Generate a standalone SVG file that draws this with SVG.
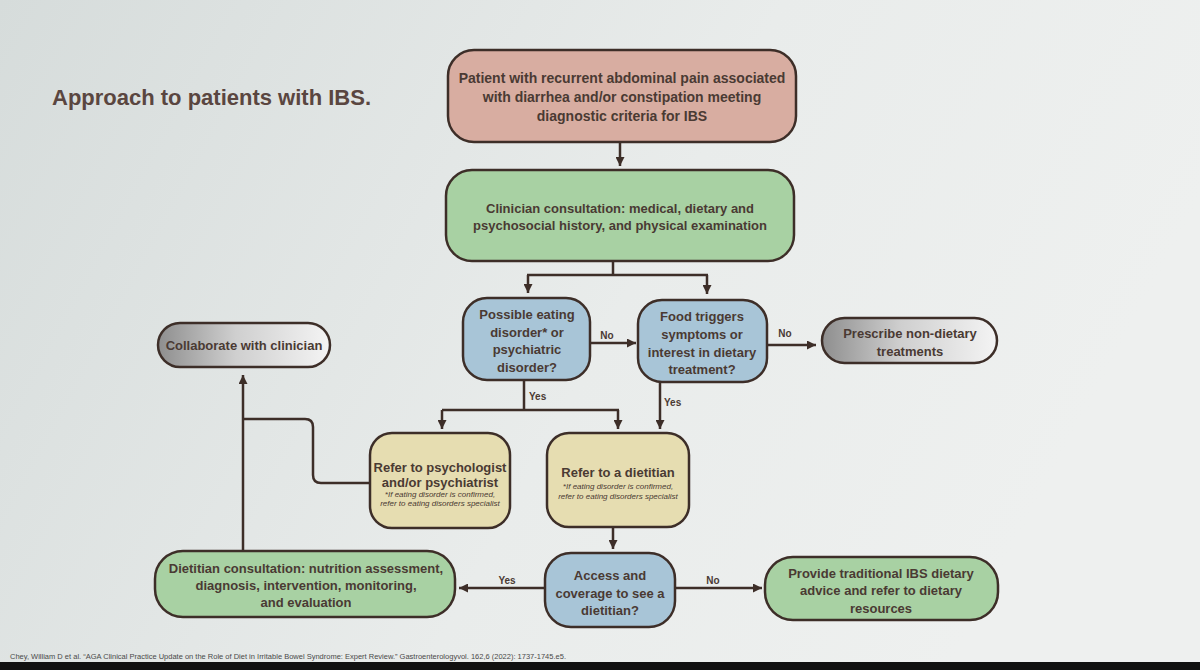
<svg xmlns="http://www.w3.org/2000/svg" width="1200" height="670" viewBox="0 0 1200 670">
<defs>
<linearGradient id="bg" x1="0" y1="0" x2="1" y2="0.3">
<stop offset="0" stop-color="#d6dcdb"/>
<stop offset="0.6" stop-color="#e9eceb"/>
<stop offset="1" stop-color="#eef0ef"/>
</linearGradient>
<linearGradient id="grey" x1="0" y1="0" x2="1" y2="0">
<stop offset="0" stop-color="#8e8e8e"/>
<stop offset="0.45" stop-color="#cfcfcf"/>
<stop offset="1" stop-color="#f4f4f4"/>
</linearGradient>
<marker id="ah" markerUnits="userSpaceOnUse" markerWidth="9" markerHeight="9" refX="9" refY="4.5" orient="auto">
<path d="M0,0 L9,4.5 L0,9 z" fill="#3d2e28"/>
</marker>
</defs>
<style>
.n{stroke:#3d2e28;stroke-width:2.5}
.pink{fill:#d8ada1}
.green{fill:#a8d1a3}
.blue{fill:#a8c5d7}
.beige{fill:#e6ddb1}
.gr{fill:url(#grey)}
text{font-family:"Liberation Sans",Arial,sans-serif;fill:#4a3a33;text-anchor:middle}
.t{font-size:13px;font-weight:bold}
.t14{font-size:14px;font-weight:bold}
.s{font-size:8px;font-style:italic}
.lb{font-size:10px;font-weight:bold}
.c{fill:none;stroke:#3d2e28;stroke-width:2.5}
.a{marker-end:url(#ah)}
</style>
<rect x="0" y="0" width="1200" height="670" fill="url(#bg)"/>
<rect x="0" y="662" width="1200" height="8" fill="#111"/>
<text x="52" y="105" style="font-size:22px;font-weight:600;text-anchor:start;fill:#5a4640">Approach to patients with IBS.</text>
<text x="10" y="659" style="font-size:7.5px;text-anchor:start;fill:#4a4a4a">Chey, William D et al. “AGA Clinical Practice Update on the Role of Diet in Irritable Bowel Syndrome: Expert Review.” Gastroenterologyvol. 162,6 (2022): 1737-1745.e5.</text>

<g id="connectors">
<path class="c a" d="M620,142 V166"/>
<path class="c" d="M613,261 V275 M527,275 H708"/>
<path class="c a" d="M528,275 V293"/>
<path class="c a" d="M707,275 V294"/>
<path class="c a" d="M590,343 H636"/>
<path class="c a" d="M767,345 H816"/>
<path class="c" d="M524,380 V410 M442,410 H619"/>
<path class="c a" d="M442,410 V429"/>
<path class="c a" d="M618,410 V429"/>
<path class="c a" d="M660,382 V429"/>
<path class="c" d="M370,483 H321 Q313,483 313,475 V427 Q313,419 305,419 H243"/>
<path class="c a" d="M243,551 V375"/>
<path class="c a" d="M613,527 V549"/>
<path class="c a" d="M545,588 H459"/>
<path class="c a" d="M675,588 H762"/>
<text class="lb" x="607" y="339">No</text>
<text class="lb" x="785" y="337">No</text>
<text class="lb" x="529" y="400" style="text-anchor:start">Yes</text>
<text class="lb" x="664" y="406" style="text-anchor:start">Yes</text>
<text class="lb" x="507" y="584">Yes</text>
<text class="lb" x="713" y="584">No</text>
</g>

<g id="patient">
<rect class="n pink" x="448" y="50" width="348" height="92" rx="26"/>
<text class="t14" x="622" y="83">Patient with recurrent abdominal pain associated</text>
<text class="t14" x="622" y="102">with diarrhea and/or constipation meeting</text>
<text class="t14" x="622" y="121">diagnostic criteria for IBS</text>
</g>
<g id="clinician">
<rect class="n green" x="446" y="170" width="348" height="91" rx="26"/>
<text class="t" x="620" y="212.5">Clinician consultation: medical, dietary and</text>
<text class="t" x="620" y="230">psychosocial history, and physical examination</text>
</g>
<g id="eating">
<rect class="n blue" x="463" y="298" width="127" height="82" rx="24"/>
<text class="t" x="527" y="319">Possible eating</text>
<text class="t" x="527" y="336.5">disorder* or</text>
<text class="t" x="527" y="354">psychiatric</text>
<text class="t" x="527" y="371.5">disorder?</text>
</g>
<g id="food">
<rect class="n blue" x="638" y="300" width="129" height="82" rx="24"/>
<text class="t" x="702" y="321">Food triggers</text>
<text class="t" x="702" y="339">symptoms or</text>
<text class="t" x="702" y="357">interest in dietary</text>
<text class="t" x="702" y="374">treatment?</text>
</g>
<g id="prescribe">
<rect class="n gr" x="822" y="318" width="175" height="45" rx="22.5"/>
<text class="t" x="910" y="337.5">Prescribe non-dietary</text>
<text class="t" x="910" y="356">treatments</text>
</g>
<g id="collaborate">
<rect class="n gr" x="158" y="323" width="172" height="44" rx="22"/>
<text class="t" x="244" y="349.5">Collaborate with clinician</text>
</g>
<g id="psych">
<rect class="n beige" x="370" y="433" width="140" height="95" rx="22"/>
<text class="t" x="440" y="472">Refer to psychologist</text>
<text class="t" x="440" y="487">and/or psychiatrist</text>
<text class="s" x="440" y="497">*If eating disorder is confirmed,</text>
<text class="s" x="440" y="506">refer to eating disorders specialist</text>
</g>
<g id="dietitian">
<rect class="n beige" x="547" y="433" width="142" height="94" rx="22"/>
<text class="t" x="618" y="477">Refer to a dietitian</text>
<text class="s" x="618" y="489">*If eating disorder is confirmed,</text>
<text class="s" x="618" y="499">refer to eating disorders specialist</text>
</g>
<g id="consultation">
<rect class="n green" x="155" y="551" width="300" height="66" rx="28"/>
<text class="t" x="306" y="572.5">Dietitian consultation:  nutrition assessment,</text>
<text class="t" x="306" y="589.5">diagnosis, intervention, monitoring,</text>
<text class="t" x="306" y="606.5">and evaluation</text>
</g>
<g id="access">
<rect class="n blue" x="545" y="553" width="130" height="74" rx="26"/>
<text class="t" x="610" y="579.5">Access and</text>
<text class="t" x="610" y="597.5">coverage to see a</text>
<text class="t" x="610" y="614.5">dietitian?</text>
</g>
<g id="provide">
<rect class="n green" x="765" y="557" width="233" height="63" rx="28"/>
<text class="t" x="881" y="577.5">Provide traditional IBS dietary</text>
<text class="t" x="881" y="594.5">advice and refer to dietary</text>
<text class="t" x="881" y="612.5">resources</text>
</g>
</svg>
